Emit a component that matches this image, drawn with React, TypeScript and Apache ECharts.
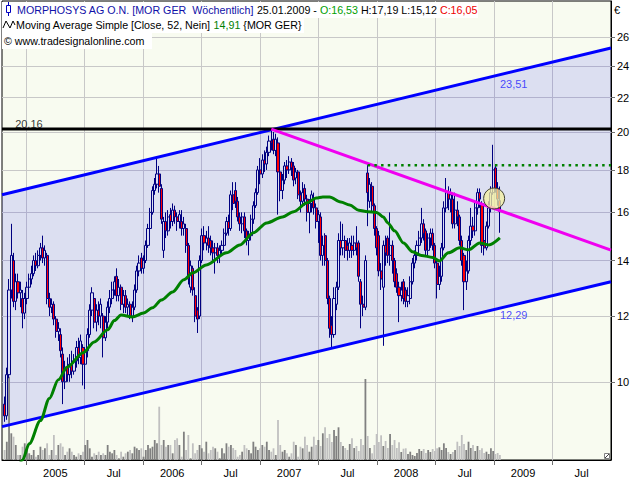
import { useEffect, useRef } from "react";
import * as echarts from "echarts";

// ---------------- data ----------------
const firstWeek = "2004-10-25"; // Monday of the first weekly bar
const lastBarDate = "25.01.2009";

// weekly bars: [open, high, low, close] in EUR
const ohlc: number[][] = [
  [9.4, 9.6, 8.95, 9.1], [9.1, 10.4, 9.0, 10.2], [10.2, 13.3, 10.1, 12.9], [12.9, 15.5, 12.6, 14.2], [14.0, 14.3, 12.3, 12.5],
  [12.5, 13.5, 12.2, 13.2], [13.2, 13.5, 12.6, 12.8], [12.8, 13.2, 12.3, 12.9], [12.6, 12.9, 11.6, 12.1], [12.1, 12.8, 11.9, 12.6],
  [12.6, 13.2, 12.4, 13.0], [13.0, 13.5, 12.8, 13.3], [13.3, 13.8, 13.1, 13.5], [13.5, 14.2, 13.4, 14.0], [14.0, 14.3, 13.6, 13.8],
  [13.8, 14.4, 13.7, 14.2], [14.2, 14.7, 14.0, 14.5], [14.5, 15.0, 13.9, 14.1], [14.1, 14.6, 13.8, 14.4], [14.2, 14.3, 12.4, 12.6],
  [12.6, 12.8, 12.0, 12.3], [12.3, 12.6, 12.1, 12.4], [12.4, 12.5, 11.7, 11.9], [11.9, 12.0, 11.3, 11.5], [11.5, 11.8, 11.2, 11.6],
  [11.4, 11.6, 10.7, 10.9], [10.8, 11.0, 9.4, 10.0], [10.0, 10.6, 9.8, 10.4], [10.4, 10.7, 10.0, 10.2], [10.2, 10.8, 10.0, 10.5],
  [10.5, 10.9, 10.1, 10.3], [10.3, 10.8, 10.2, 10.6], [10.6, 11.2, 10.4, 11.0], [11.0, 11.3, 10.5, 10.7], [10.7, 11.4, 10.5, 11.2],
  [11.0, 11.1, 9.9, 10.5], [10.5, 11.0, 9.8, 10.9], [10.9, 11.6, 10.7, 11.4], [11.4, 12.4, 11.3, 12.2], [12.2, 13.0, 12.0, 12.8],
  [12.6, 12.8, 11.6, 11.8], [11.8, 12.4, 11.5, 12.2], [12.2, 12.5, 11.7, 12.0], [12.0, 12.6, 11.6, 12.4], [12.0, 12.1, 10.7, 11.3],
  [11.3, 12.0, 11.2, 11.8], [11.8, 12.5, 11.6, 12.3], [12.3, 12.9, 12.1, 12.6], [12.6, 13.2, 12.4, 12.9], [12.9, 13.4, 12.7, 13.2],
  [13.4, 13.7, 12.5, 12.7], [12.7, 13.3, 12.5, 13.0], [13.0, 13.1, 12.2, 12.4], [12.4, 12.9, 12.1, 12.7], [12.7, 12.9, 12.1, 12.3],
  [12.3, 12.6, 12.0, 12.4], [12.4, 12.5, 11.9, 12.0], [12.0, 12.5, 11.8, 12.3], [12.3, 13.1, 12.2, 12.9], [12.9, 13.8, 12.8, 13.6],
  [13.6, 14.2, 13.4, 13.9], [14.1, 14.3, 13.5, 13.7], [13.7, 14.2, 13.5, 14.0], [14.0, 14.8, 13.9, 14.6], [14.6, 15.5, 14.5, 15.3],
  [15.3, 16.2, 15.2, 16.0], [16.0, 17.2, 15.9, 17.0], [17.0, 17.6, 16.8, 17.3], [17.3, 18.6, 17.1, 17.8], [17.8, 18.2, 16.9, 17.2],
  [17.1, 17.3, 15.5, 15.7], [14.4, 15.8, 14.1, 15.6], [15.6, 16.0, 14.9, 15.2], [15.2, 16.1, 15.0, 15.8], [15.9, 16.2, 15.3, 15.6],
  [15.6, 16.4, 15.4, 16.1], [16.1, 16.3, 15.5, 15.8], [15.8, 16.0, 15.2, 15.6], [15.6, 16.1, 15.3, 15.9], [15.6, 16.1, 15.0, 15.3],
  [15.3, 15.8, 15.0, 15.5], [15.3, 15.5, 14.3, 14.6], [14.6, 14.7, 13.1, 13.3], [13.0, 14.0, 12.8, 13.8], [13.7, 13.8, 12.7, 12.9],
  [12.7, 13.0, 11.8, 12.0], [12.2, 12.3, 11.45, 11.9], [12.0, 14.2, 11.9, 14.0], [14.0, 15.3, 13.9, 15.0], [15.0, 15.4, 14.4, 14.7],
  [14.7, 15.2, 14.4, 14.9], [14.9, 15.4, 14.3, 14.6], [14.8, 15.0, 14.2, 14.5], [14.5, 14.8, 14.0, 14.3], [14.3, 14.7, 13.5, 14.5],
  [14.5, 14.7, 13.9, 14.2], [14.2, 14.6, 13.9, 14.4], [14.4, 14.8, 14.2, 14.6], [14.6, 15.3, 14.5, 15.1], [15.1, 15.8, 15.0, 15.6],
  [15.6, 15.9, 15.0, 15.3], [15.3, 17.0, 15.2, 16.8], [16.8, 17.4, 16.1, 16.4], [17.0, 17.4, 16.2, 16.5], [16.5, 16.7, 15.6, 15.8],
  [15.8, 16.0, 15.2, 15.5], [15.5, 16.0, 15.1, 15.8], [15.8, 16.0, 14.9, 15.2], [15.2, 15.3, 14.6, 14.8], [14.8, 15.2, 14.2, 15.0],
  [15.0, 15.9, 14.8, 15.7], [15.7, 16.5, 15.5, 16.3], [16.3, 17.1, 16.2, 16.9], [16.9, 18.2, 16.8, 18.0], [18.0, 18.6, 17.3, 17.8],
  [17.8, 18.8, 17.6, 18.5], [18.5, 19.0, 17.9, 18.3], [18.3, 19.2, 18.0, 18.9], [18.9, 19.8, 18.7, 19.5], [19.5, 20.16, 19.0, 19.4],
  [19.6, 20.0, 18.8, 19.0], [19.0, 19.9, 18.7, 19.6], [19.4, 19.7, 15.9, 17.9], [17.9, 18.2, 16.5, 17.0], [17.0, 17.8, 16.6, 17.5],
  [17.5, 18.4, 17.3, 18.2], [18.2, 18.5, 17.6, 18.0], [18.0, 18.7, 17.8, 18.4], [18.4, 18.6, 17.7, 18.1], [18.2, 18.4, 17.2, 17.5],
  [17.6, 18.1, 17.3, 17.9], [17.9, 18.0, 16.6, 16.8], [16.8, 17.0, 16.0, 16.5], [16.5, 17.4, 16.3, 16.9], [17.1, 17.3, 16.3, 16.6],
  [16.6, 16.8, 15.6, 16.0], [16.0, 16.6, 15.1, 16.4], [16.4, 17.0, 16.0, 16.8], [16.6, 16.9, 15.9, 16.2], [16.2, 16.4, 15.3, 15.6],
  [15.6, 16.1, 14.7, 15.9], [15.8, 16.0, 14.0, 14.2], [14.2, 15.0, 13.8, 14.6], [15.0, 15.1, 13.8, 14.0], [14.0, 14.1, 12.4, 12.6],
  [12.6, 12.7, 11.3, 11.6], [11.7, 12.0, 11.0, 11.4], [11.4, 13.0, 11.3, 12.6], [12.4, 13.2, 12.2, 13.0], [13.0, 15.1, 12.9, 14.8],
  [14.8, 15.6, 14.2, 14.5], [14.5, 15.5, 14.2, 14.8], [14.8, 15.0, 14.1, 14.4], [14.6, 14.9, 14.0, 14.4], [14.4, 14.9, 14.1, 14.7],
  [14.6, 15.0, 14.1, 14.4], [14.4, 15.0, 14.2, 14.7], [14.7, 15.4, 14.2, 14.5], [14.7, 14.8, 13.2, 13.4], [13.2, 13.3, 11.6, 12.4],
  [12.4, 12.7, 12.0, 12.3], [12.3, 14.2, 12.2, 14.0], [17.85, 18.24, 15.4, 16.9], [16.5, 17.6, 16.2, 17.3], [17.2, 17.4, 16.0, 16.3],
  [16.3, 16.4, 15.0, 15.3], [15.3, 15.4, 14.2, 14.5], [15.0, 15.2, 13.4, 13.6], [13.6, 13.9, 12.9, 13.3], [13.0, 14.8, 11.05, 14.6],
  [14.6, 15.0, 13.8, 14.3], [14.9, 15.0, 13.9, 14.2], [14.2, 16.0, 13.8, 14.6], [14.6, 14.8, 13.5, 14.0], [14.0, 14.1, 13.0, 13.2],
  [13.5, 13.7, 12.8, 13.0], [13.0, 13.2, 11.8, 12.7], [12.7, 13.2, 12.5, 12.9], [13.2, 13.3, 12.4, 12.6], [12.9, 13.0, 12.3, 12.5],
  [12.5, 13.0, 12.3, 12.7], [12.6, 13.4, 12.4, 13.2], [13.2, 14.1, 13.1, 13.9], [13.9, 14.4, 13.7, 14.2], [14.2, 14.8, 14.0, 14.6],
  [14.6, 15.2, 14.3, 14.9], [14.9, 16.2, 14.7, 15.5], [15.5, 15.7, 14.8, 15.1], [15.2, 15.3, 14.2, 14.4], [14.4, 15.1, 14.2, 14.9],
  [14.9, 15.3, 14.5, 15.1], [15.1, 15.3, 14.4, 14.6], [14.6, 14.7, 13.7, 13.9], [13.9, 14.0, 12.6, 13.1], [13.1, 13.8, 12.9, 13.4],
  [13.4, 14.7, 13.2, 14.5], [14.5, 16.5, 14.4, 16.2], [16.2, 17.6, 16.0, 16.9], [16.9, 17.2, 16.1, 16.6], [16.6, 17.1, 16.0, 16.8],
  [16.6, 16.8, 15.3, 15.5], [15.5, 16.9, 15.3, 16.1], [16.1, 16.5, 15.4, 15.8], [15.8, 15.9, 14.6, 14.8], [14.8, 15.0, 13.8, 14.0],
  [14.2, 14.3, 12.2, 13.2], [13.2, 14.0, 12.9, 13.6], [13.6, 15.0, 13.5, 14.8], [14.8, 16.2, 14.6, 15.4], [15.4, 15.8, 14.9, 15.2],
  [15.2, 16.5, 15.0, 16.2], [16.2, 17.1, 15.9, 16.9], [16.9, 17.1, 16.2, 16.6], [16.4, 16.5, 14.3, 14.6], [14.8, 15.0, 14.2, 14.5],
  [14.5, 15.6, 14.4, 15.4], [15.4, 16.5, 15.3, 16.2], [16.2, 17.2, 16.0, 16.9], [16.9, 19.3, 16.8, 18.0], [18.1, 18.2, 16.9, 17.1],
  [17.1, 17.4, 16.3, 16.6], [16.53, 17.19, 15.12, 16.05],
];

// weekly volume (relative units)
const volume: number[] = [
  10, 18.3, 83.3, 26.7, 23.3, 15, 5, 5, 13.3, 16.7,
  11.7, 6.7, 5, 10, 3.3, 5, 13.3, 10, 11.7, 16.7,
  5, 10, 25, 5, 15, 16.7, 13.3, 5, 8.3, 11.7,
  8.3, 5, 3.3, 6.7, 5, 8.3, 15, 20, 11.7, 3.3,
  6.7, 5, 8.3, 5, 6.7, 5, 15, 8.3, 6.7, 10,
  5, 1.7, 8.3, 3.3, 6.7, 8.3, 10, 6.7, 13.3, 11.7,
  10, 11.7, 3.3, 10, 15, 11.7, 13.3, 20, 16.7, 53.3,
  15, 20, 13.3, 15, 15, 6.7, 20, 21.7, 15, 3.3,
  28.3, 10, 25, 1.7, 16.7, 6.7, 10, 15, 11.7, 8.3,
  18.3, 6.7, 10, 13.3, 11.7, 8.3, 1.7, 11.7, 6.7, 16.7,
  13.3, 15, 12, 10, 3.3, 5, 8.3, 15, 11.7, 10,
  6.7, 18.3, 13.3, 10, 11.7, 15, 13.3, 18.3, 10, 8.3,
  11.7, 5, 40, 15, 8.3, 10, 6.7, 3.3, 6.7, 18.3,
  15, 3.3, 13.3, 11.7, 23.3, 15, 8.3, 13.3, 23.3, 15,
  20, 14, 26.7, 32.7, 22, 26, 18, 30, 24, 32.7,
  18, 14, 12, 10, 16, 21.7, 12, 14, 9, 21,
  15, 81, 24, 12, 6.7, 15, 26, 18, 24.7, 14,
  19, 12, 26, 15, 20, 12, 17.7, 8, 11.3, 11.7,
  6, 8.3, 5, 4, 7, 11, 9, 11, 7, 10,
  8, 11, 9, 11.7, 12.7, 10, 16.7, 12, 8, 6,
  8, 10, 18.3, 14, 25, 16, 10, 18.3, 12, 15,
  9, 14, 10, 11.7, 7, 8.3, 6, 11.7, 9, 6,
  7, 5,
];

// 52-week simple moving average, read at these bar indices
const maWeek = [5, 8, 11, 16, 20, 24, 28, 35, 40, 46, 49, 52, 57, 62, 66, 70, 75, 80, 84, 90, 99, 105, 111, 117, 124, 129, 135, 139, 142, 145, 150, 154, 158, 162, 166, 169, 171, 174, 178, 182, 186, 191, 194, 198, 203, 207, 212, 216, 221];
const maValue = [7.72, 8.05, 8.42, 8.98, 9.55, 10.06, 10.42, 10.84, 11.17, 11.55, 11.85, 12.04, 11.97, 12.1, 12.28, 12.55, 12.83, 13.27, 13.53, 13.83, 14.3, 14.62, 15.12, 15.54, 15.8, 16.03, 16.43, 16.65, 16.7, 16.7, 16.47, 16.33, 16.1, 16.03, 16.0, 15.8, 15.54, 15.2, 14.7, 14.34, 14.2, 14.12, 13.98, 14.3, 14.5, 14.42, 14.7, 14.62, 14.91];

// axes
const priceTicks = [10, 12, 14, 16, 18, 20, 22, 24, 26];
const xTickDates = ["2005-01-01", "2005-07-01", "2006-01-01", "2006-07-01", "2007-01-01", "2007-07-01", "2008-01-01", "2008-07-01", "2009-01-01", "2009-07-01", "2010-01-01"];
const xPeriodLabels = ["2005", "Jul", "2006", "Jul", "2007", "Jul", "2008", "Jul", "2009", "Jul"];
const xRange = ["2004-10-17", "2010-01-01"];
const priceRange = [8.05, 28.76];

// drawings
const upperChannel = [16.8, 25.25]; // at the two ends of the x range
const lowerChannel = [8.83, 13.2];
const resistance = 20.16;
const downTrendDates = ["2007-02-05", "2010-01-01"];
const downTrendValues = [20.16, 14.41];
const breakoutDates = ["2007-12-03", "2010-01-01"];
const breakoutValues = [18.24, 18.24];
const channelLabels = ["23,51", "12,29"];
const resistanceLabel = "20,16";
const highlightDate = "2009-01-01";
const highlightPrice = 16.63;

// ---------------- helpers ----------------
const ms = (s: string) => Date.parse(s + "T00:00:00Z");
const WEEK = 7 * 86400000;
const L = Math.log;
const fmt = (v: number) => v.toFixed(2).replace(".", ",");
const FONT = "Liberation Sans";
const HFS = 10.7; // header font size

function buildOption() {
  const t0 = ms(firstWeek);
  const times = ohlc.map((_, i) => t0 + i * WEEK);
  const xMin = ms(xRange[0]);
  const xMax = ms(xRange[1]);
  const tickTs = xTickDates.slice(0, -1).map(ms);
  const labelTs = xPeriodLabels.map((_, i) => (ms(xTickDates[i]) + ms(xTickDates[i + 1])) / 2);
  const last = ohlc[ohlc.length - 1];
  const maLast = maValue[maValue.length - 1];

  const candleData = ohlc.map((d, i) => [times[i], L(d[0]), L(d[3]), L(d[2]), L(d[1])]);
  const volData = volume.map((v, i) => ({
    value: [times[i], v],
    itemStyle: { color: ohlc[i][3] >= ohlc[i][0] ? "#808080" : "#c0c0c0" },
  }));
  const maData = maWeek.map((w, k) => [times[w], L(maValue[k])]);

  const thinLine = (name: string, data: number[][], color: string, width: number, type: any = "solid") => ({
    name,
    type: "line",
    data,
    symbol: "none",
    silent: true,
    clip: true,
    lineStyle: { color, width, type },
    z: 3,
  });

  const line1 =
    `{n|MORPHOSYS AG O.N. [MOR GER  Wöchentlich]}{k| ${lastBarDate} - }{g|O:${fmt(last[0])}}` +
    `{k| H:${fmt(last[1])} L:${fmt(last[2])} }{r|C:${fmt(last[3])}}`;
  const line2 = `Moving Average Simple [Close, 52, Nein] {g|${fmt(maLast)}} {MOR GER}`;

  return {
    animation: false,
    grid: {
      left: 2, top: 1, right: 29, bottom: 20,
      show: true, backgroundColor: "#f8fbf0", borderColor: "#000", borderWidth: 1,
      containLabel: false, outerBoundsMode: "none",
    },
    xAxis: {
      type: "value",
      min: xMin,
      max: xMax,
      axisLine: { show: true, lineStyle: { color: "#000", width: 1 } },
      axisTick: { show: true, customValues: tickTs, length: 5, lineStyle: { color: "#707070" } },
      axisLabel: {
        show: true,
        customValues: labelTs,
        formatter: (v: number) => {
          let best = 0;
          labelTs.forEach((p, i) => { if (Math.abs(p - v) < Math.abs(labelTs[best] - v)) best = i; });
          return xPeriodLabels[best];
        },
        color: "#000", fontSize: 11, fontFamily: FONT, margin: 7,
      },
      splitLine: { show: true, lineStyle: { color: "#c8c8c8", width: 1 } },
    },
    yAxis: [
      {
        type: "value",
        position: "right",
        min: L(priceRange[0]),
        max: L(priceRange[1]),
        axisLine: { show: true, lineStyle: { color: "#000", width: 1 } },
        axisTick: { show: true, customValues: priceTicks.map(L), length: 4, lineStyle: { color: "#707070" } },
        axisLabel: {
          show: true,
          customValues: priceTicks.map(L),
          formatter: (v: number) => String(Math.round(Math.exp(v))),
          color: "#000", fontSize: 11, fontFamily: FONT, margin: 6,
        },
        splitLine: { show: true, lineStyle: { color: "#c8c8c8", width: 1 } },
      },
      { type: "value", min: 0, max: 459, show: false, splitLine: { show: false } },
    ],
    series: [
      {
        name: "channelFill",
        type: "custom",
        silent: true,
        clip: true,
        z: 1,
        data: [[xMin, L(lowerChannel[0]), xMax, L(lowerChannel[1]), L(upperChannel[0]), L(upperChannel[1])]],
        encode: { x: [0, 2], y: [1, 3, 4, 5] },
        renderItem: (_params: any, api: any) => {
          const xa = api.value(0), xb = api.value(2);
          const pts = [
            api.coord([xa, api.value(1)]),
            api.coord([xb, api.value(3)]),
            api.coord([xb, api.value(5)]),
            api.coord([xa, api.value(4)]),
          ];
          return { type: "polygon", shape: { points: pts }, style: { fill: "rgba(0,0,255,0.11)" } };
        },
      },
      {
        name: "Volume", type: "bar", yAxisIndex: 1, data: volData, barWidth: 1.8, silent: true, z: 2,
      },
      {
        name: "MORPHOSYS", type: "candlestick", data: candleData, barWidth: 2.6, silent: true, z: 2,
        itemStyle: { color: "rgba(0,0,0,0)", color0: "#ff0000", borderColor: "#000080", borderColor0: "#000080", borderWidth: 1 },
      },
      thinLine("upperChannel", [[xMin, L(upperChannel[0])], [xMax, L(upperChannel[1])]], "#0000ff", 3),
      thinLine("lowerChannel", [[xMin, L(lowerChannel[0])], [xMax, L(lowerChannel[1])]], "#0000ff", 3),
      thinLine("resistance", [[xMin, L(resistance)], [xMax, L(resistance)]], "#000000", 3),
      thinLine("downTrend", downTrendDates.map((d, i) => [ms(d), L(downTrendValues[i])]), "#f000f0", 3),
      {
        ...thinLine("SMA52", maData, "#008000", 3),
        smooth: 0.3,
        smoothMonotone: "x",
      },
      thinLine("breakout", breakoutDates.map((d, i) => [ms(d), L(breakoutValues[i])]), "#008000", 2.5, [2.5, 4.2]),
      {
        name: "labels", type: "scatter", symbolSize: 0, silent: true, z: 5,
        data: [
          { value: [ms("2009-01-19"), L(22.85)], label: { formatter: channelLabels[0], color: "#1a1aff" } },
          { value: [ms("2009-01-19"), L(12.04)], label: { formatter: channelLabels[1], color: "#1a1aff" } },
          { value: [ms("2004-11-27"), L(20.44)], label: { formatter: resistanceLabel, color: "#000" } },
        ],
        label: { show: true, position: "right", distance: 0, fontSize: 11, fontFamily: FONT },
      },
      {
        name: "highlight", type: "scatter", symbol: "circle", symbolSize: 21, silent: true, z: 6,
        data: [[ms(highlightDate), L(highlightPrice)]],
        itemStyle: { color: "rgba(244,240,160,0.76)", borderColor: "#404030", borderWidth: 1, opacity: 1 },
      },
    ],
    graphic: [
      { type: "rect", z: 100, shape: { x: 2, y: 2, width: 476, height: 16 }, style: { fill: "#ffffff" } },
      { type: "rect", z: 100, shape: { x: 2, y: 18, width: 302, height: 15 }, style: { fill: "#ffffff" } },
      { type: "rect", z: 100, shape: { x: 2, y: 33, width: 150, height: 16 }, style: { fill: "#ffffff" } },
      { type: "line", z: 101, shape: { x1: 8.5, y1: 2, x2: 8.5, y2: 16 }, style: { stroke: "#0000c0", lineWidth: 1 } },
      { type: "rect", z: 102, shape: { x: 6.5, y: 5.5, width: 4, height: 7 }, style: { fill: "#ffffff", stroke: "#0000c0", lineWidth: 1 } },
      { type: "polyline", z: 101, shape: { points: [[3, 28], [6, 21], [10, 28], [13, 21], [15, 25]] }, style: { stroke: "#000", lineWidth: 1, fill: null } },
      {
        type: "text", z: 103, x: 17, y: 10,
        style: {
          text: line1, fontSize: HFS, fontFamily: FONT, fill: "#000", verticalAlign: "middle",
          rich: {
            n: { fill: "#1010a8", fontSize: HFS, fontFamily: FONT },
            k: { fill: "#000000", fontSize: HFS, fontFamily: FONT },
            g: { fill: "#00a000", fontSize: HFS, fontFamily: FONT },
            r: { fill: "#ee0000", fontSize: HFS, fontFamily: FONT },
          },
        },
      },
      {
        type: "text", z: 103, x: 16, y: 25,
        style: {
          text: line2, fontSize: HFS, fontFamily: FONT, fill: "#000", verticalAlign: "middle",
          rich: { g: { fill: "#008000", fontSize: HFS, fontFamily: FONT } },
        },
      },
      {
        type: "text", z: 103, x: 4, y: 41,
        style: { text: "© www.tradesignalonline.com", fontSize: HFS, fontFamily: FONT, fill: "#000", verticalAlign: "middle" },
      },
      {
        type: "text", z: 103, x: 614, y: 10,
        style: { text: "€", fontSize: 11, fontFamily: FONT, fill: "#000", verticalAlign: "middle" },
      },
      { type: "rect", z: 103, shape: { x: 604.5, y: 453.5, width: 5, height: 5 }, style: { fill: "#ffffff", stroke: "#808080", lineWidth: 1 } },
      { type: "line", z: 104, shape: { x1: 605, y1: 458, x2: 609, y2: 454 }, style: { stroke: "#404040", lineWidth: 1 } },
    ],
  };
}

export default function App() {
  const ref = useRef<HTMLDivElement>(null);
  useEffect(() => {
    if (!ref.current) return;
    const chart = echarts.init(ref.current, null, { renderer: "svg" });
    chart.setOption(buildOption() as any);
    return () => chart.dispose();
  }, []);
  return (
    <div
      ref={ref}
      style={{ position: "fixed", left: 0, top: 0, width: 640, height: 480, background: "#ffffff" }}
    />
  );
}
